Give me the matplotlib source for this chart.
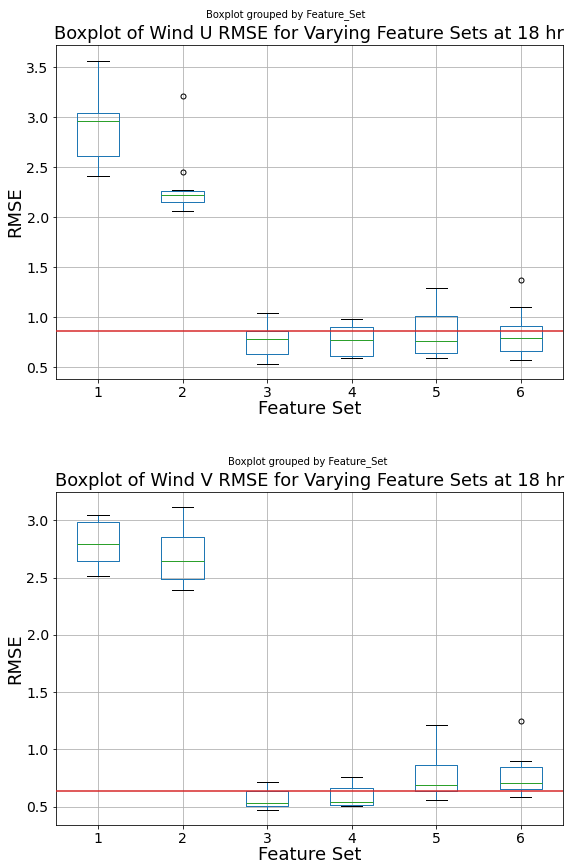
import matplotlib
matplotlib.use("Agg")
import matplotlib.pyplot as plt

# Feature sets on the x axis
feature_sets = [1, 2, 3, 4, 5, 6]

# Wind U RMSE box statistics per feature set
u_whislo = [2.407, 2.06, 0.53, 0.59, 0.59, 0.573]
u_q1 = [2.611, 2.156, 0.627, 0.613, 0.643, 0.66]
u_med = [2.965, 2.22, 0.778, 0.768, 0.758, 0.794]
u_q3 = [3.042, 2.26, 0.856, 0.898, 1.008, 0.914]
u_whishi = [3.563, 2.27, 1.041, 0.984, 1.292, 1.104]
u_fliers = [[], [3.212, 2.451], [], [], [], [1.369]]
u_reference = 0.861

# Wind V RMSE box statistics per feature set
v_whislo = [2.51, 2.39, 0.471, 0.509, 0.558, 0.585]
v_q1 = [2.641, 2.49, 0.503, 0.512, 0.634, 0.654]
v_med = [2.79, 2.644, 0.53, 0.538, 0.687, 0.709]
v_q3 = [2.982, 2.851, 0.635, 0.663, 0.861, 0.846]
v_whishi = [3.043, 3.113, 0.718, 0.757, 1.213, 0.896]
v_fliers = [[], [], [], [], [], [1.248]]
v_reference = 0.637

W, H = 565, 863
DPI = 72
fig = plt.figure(figsize=(W / DPI, H / DPI), dpi=DPI)


def px_axes(left, top, right, bottom):
    return fig.add_axes([left / W, 1 - bottom / H, (right - left) / W, (bottom - top) / H])


def draw_panel(ax, whislo, q1, med, q3, whishi, fliers, ref, title, ylim, yticks):
    stats = []
    for i, label in enumerate(feature_sets):
        stats.append(dict(label=str(label), whislo=whislo[i], q1=q1[i], med=med[i],
                          q3=q3[i], whishi=whishi[i], fliers=fliers[i]))
    ax.bxp(stats, positions=feature_sets, widths=0.5, showfliers=True,
           boxprops=dict(color="#1f77b4", linewidth=1.0),
           whiskerprops=dict(color="#1f77b4", linewidth=1.0),
           capprops=dict(color="black", linewidth=1.0),
           medianprops=dict(color="#2ca02c", linewidth=1.0),
           flierprops=dict(marker="o", markerfacecolor="none",
                           markeredgecolor="black", markersize=5))
    ax.axhline(ref, color="#d62728", linewidth=1.5, zorder=5)
    ax.set_xlim(0.5, 6.5)
    ax.set_ylim(*ylim)
    ax.set_yticks(yticks)
    ax.grid(True, color="#b0b0b0", linewidth=0.8)
    ax.set_axisbelow(True)
    ax.tick_params(labelsize=14)
    ax.set_xlabel("Feature Set", fontsize=18, labelpad=0)
    ax.set_ylabel("RMSE", fontsize=18, labelpad=2)
    ax.set_title(title, fontsize=17.8)


ax_u = px_axes(55.7, 45.3, 563, 379)
draw_panel(ax_u, u_whislo, u_q1, u_med, u_q3, u_whishi, u_fliers, u_reference,
           "Boxplot of Wind U RMSE for Varying Feature Sets at 18 hr",
           (0.38, 3.72), [0.5, 1.0, 1.5, 2.0, 2.5, 3.0, 3.5])

ax_v = px_axes(55.7, 491.7, 563, 825)
draw_panel(ax_v, v_whislo, v_q1, v_med, v_q3, v_whishi, v_fliers, v_reference,
           "Boxplot of Wind V RMSE for Varying Feature Sets at 18 hr",
           (0.34, 3.249), [0.5, 1.0, 1.5, 2.0, 2.5, 3.0])

fig.text(286 / W, 1 - 15 / H, "Boxplot grouped by Feature_Set",
         ha="center", va="center", fontsize=10)
fig.text(308 / W, 1 - 461.5 / H, "Boxplot grouped by Feature_Set",
         ha="center", va="center", fontsize=10)

fig.savefig("out.png", dpi=DPI)
